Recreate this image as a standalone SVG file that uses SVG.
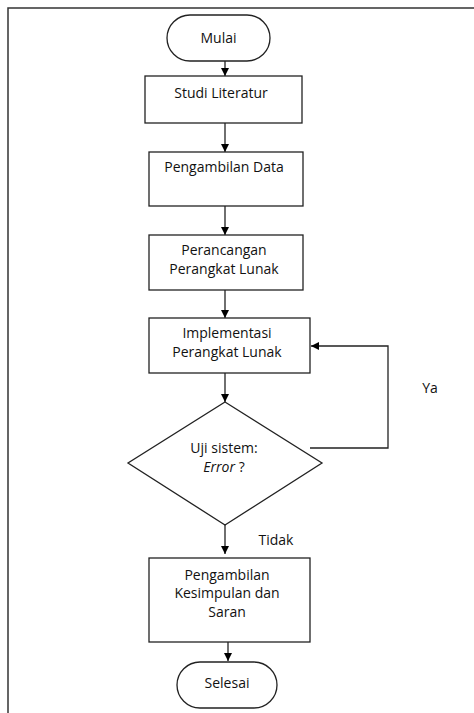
<svg xmlns="http://www.w3.org/2000/svg" width="474" height="713" viewBox="0 0 474 713">
<defs>
<marker id="ah" viewBox="0 0 10 10" refX="10" refY="5" markerWidth="8" markerHeight="8" markerUnits="userSpaceOnUse" orient="auto">
<path d="M0,0 L10,5 L0,10 z" fill="#000"/>
</marker>
<style>
.s{fill:#fff;stroke:#222;stroke-width:1.3}
.t{font-family:"Open Sans","Liberation Sans",sans-serif;font-size:14px;fill:#111;text-anchor:middle}
.c{fill:none;stroke:#222;stroke-width:1.3;marker-end:url(#ah)}
.l{fill:none;stroke:#222;stroke-width:1.3}
</style>
</defs>
<rect x="0" y="0" width="474" height="713" fill="#fff"/>
<rect x="8" y="8" width="480" height="720" fill="none" stroke="#333" stroke-width="1.5"/>
<g id="connectors">
<line class="c" x1="225" y1="61" x2="225" y2="76"/>
<line class="c" x1="225" y1="123" x2="225" y2="152"/>
<line class="c" x1="225" y1="206" x2="225" y2="235"/>
<line class="c" x1="225" y1="290" x2="225" y2="318"/>
<line class="c" x1="225" y1="373" x2="225" y2="402"/>
<polyline class="c" points="310,448 388,448 388,346 311,346"/>
<line class="c" x1="225" y1="525" x2="225" y2="554"/>
<line class="c" x1="228" y1="642" x2="228" y2="661"/>
<text class="t" x="430" y="393">Ya</text>
<text class="t" x="276" y="545">Tidak</text>
</g>
<g id="mulai">
<rect class="s" x="167" y="15" width="103" height="46" rx="23" ry="23"/>
<text class="t" x="218.5" y="43">Mulai</text>
</g>
<g id="studi">
<rect class="s" x="145" y="76" width="157" height="47"/>
<text class="t" x="221" y="98">Studi Literatur</text>
</g>
<g id="pengambilan-data">
<rect class="s" x="149" y="152" width="154" height="54"/>
<text class="t" x="224" y="172">Pengambilan Data</text>
</g>
<g id="perancangan">
<rect class="s" x="149" y="235" width="154" height="55"/>
<text class="t" x="224" y="255">Perancangan</text>
<text class="t" x="224" y="274">Perangkat Lunak</text>
</g>
<g id="implementasi">
<rect class="s" x="149" y="318" width="161" height="55"/>
<text class="t" x="227" y="338">Implementasi</text>
<text class="t" x="227" y="357">Perangkat Lunak</text>
</g>
<g id="uji">
<polygon class="s" points="225,402 322,463 225,525 128,463"/>
<text class="t" x="224" y="453">Uji sistem:</text>
<text class="t" x="224" y="472"><tspan font-style="italic">Error</tspan> ?</text>
</g>
<g id="kesimpulan">
<rect class="s" x="149" y="558" width="161" height="84"/>
<text class="t" x="227" y="580">Pengambilan</text>
<text class="t" x="227" y="598">Kesimpulan dan</text>
<text class="t" x="227" y="617">Saran</text>
</g>
<g id="selesai">
<rect class="s" x="177" y="662" width="100" height="46" rx="23" ry="23"/>
<text class="t" x="227" y="688">Selesai</text>
</g>
</svg>
